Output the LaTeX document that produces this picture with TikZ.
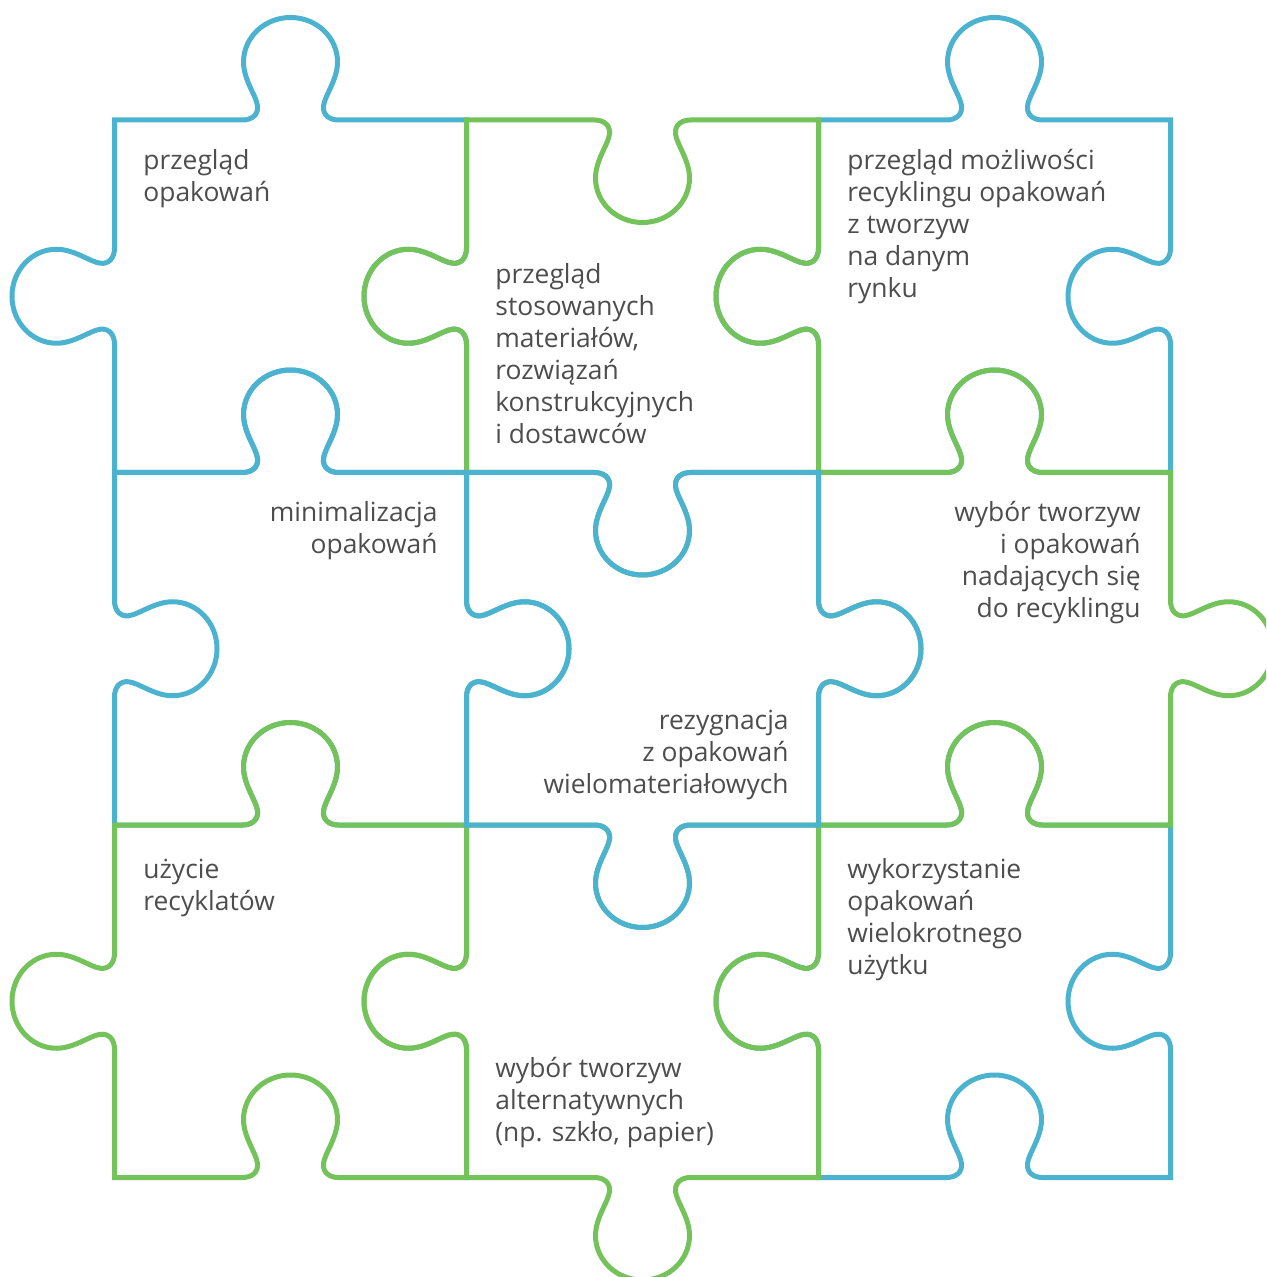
\documentclass[tikz,border=0pt]{standalone}
\usepackage{fontspec}
\setmainfont{Open Sans}

\definecolor{pzblue}{HTML}{4BB3CF}
\definecolor{pzgreen}{HTML}{74C25A}
\definecolor{txt}{HTML}{4D4D4D}

% position along an edge running from #1 to #2, offset #3 from its middle
\newcommand\hmx[3]{(#1+#2)/2+(#2-#1)/abs(#2-#1)*(#3)}

\tikzset{
  % horizontal edge from x=#1 to x=#2 at y=#3 with a knob; #4 = +1 knob up, -1 knob down
  hseg/.style n args={4}{insert path={
    -- ({\hmx{#1}{#2}{-48}},{#3})
    .. controls ({\hmx{#1}{#2}{-39}},{#3}) and ({\hmx{#1}{#2}{-32}},{#3-(#4)*5}) .. ({\hmx{#1}{#2}{-33}},{#3-(#4)*14})
    .. controls ({\hmx{#1}{#2}{-34}},{#3-(#4)*24}) and ({\hmx{#1}{#2}{-47}},{#3-(#4)*40}) .. ({\hmx{#1}{#2}{-47}},{#3-(#4)*58})
    .. controls ({\hmx{#1}{#2}{-47}},{#3-(#4)*82.6}) and ({\hmx{#1}{#2}{-26}},{#3-(#4)*102.5}) .. ({\hmx{#1}{#2}{0}},{#3-(#4)*102.5})
    .. controls ({\hmx{#1}{#2}{26}},{#3-(#4)*102.5}) and ({\hmx{#1}{#2}{47}},{#3-(#4)*82.6}) .. ({\hmx{#1}{#2}{47}},{#3-(#4)*58})
    .. controls ({\hmx{#1}{#2}{47}},{#3-(#4)*40}) and ({\hmx{#1}{#2}{34}},{#3-(#4)*24}) .. ({\hmx{#1}{#2}{33}},{#3-(#4)*14})
    .. controls ({\hmx{#1}{#2}{32}},{#3-(#4)*5}) and ({\hmx{#1}{#2}{39}},{#3}) .. ({\hmx{#1}{#2}{48}},{#3})
  }},
  % vertical edge from y=#1 to y=#2 at x=#3 with a knob; #4 = +1 knob left, -1 knob right
  vseg/.style n args={4}{insert path={
    -- ({#3},{\hmx{#1}{#2}{-48}})
    .. controls ({#3},{\hmx{#1}{#2}{-39}}) and ({#3-(#4)*5},{\hmx{#1}{#2}{-32}}) .. ({#3-(#4)*14},{\hmx{#1}{#2}{-33}})
    .. controls ({#3-(#4)*24},{\hmx{#1}{#2}{-34}}) and ({#3-(#4)*40},{\hmx{#1}{#2}{-47}}) .. ({#3-(#4)*58},{\hmx{#1}{#2}{-47}})
    .. controls ({#3-(#4)*82.6},{\hmx{#1}{#2}{-47}}) and ({#3-(#4)*102.5},{\hmx{#1}{#2}{-26}}) .. ({#3-(#4)*102.5},{\hmx{#1}{#2}{0}})
    .. controls ({#3-(#4)*102.5},{\hmx{#1}{#2}{26}}) and ({#3-(#4)*82.6},{\hmx{#1}{#2}{47}}) .. ({#3-(#4)*58},{\hmx{#1}{#2}{47}})
    .. controls ({#3-(#4)*40},{\hmx{#1}{#2}{47}}) and ({#3-(#4)*24},{\hmx{#1}{#2}{34}}) .. ({#3-(#4)*14},{\hmx{#1}{#2}{33}})
    .. controls ({#3-(#4)*5},{\hmx{#1}{#2}{32}}) and ({#3},{\hmx{#1}{#2}{39}}) .. ({#3},{\hmx{#1}{#2}{48}})
  }},
  piece/.style={line width=2.5pt, line join=miter},
  bluepc/.style={piece, draw=pzblue},
  greenpc/.style={piece, draw=pzgreen},
  lbl/.style={inner sep=0pt, text=txt, font=\fontsize{13.2pt}{16pt}\selectfont},
  % labels are placed by the baseline of their last line
  lblL/.style={lbl, anchor=base west, align=left},
  lblR/.style={lbl, anchor=base east, align=right},
}

% one puzzle piece: #1 style, #2/#3 left/right x, #4/#5 top/bottom y,
% #6 knob direction of top and bottom edges, #7 knob direction of left and right edges
\newcommand\pzpiece[7]{%
  \draw[#1] (#2,#4) [hseg={#2}{#3}{#4}{#6}] -- (#3,#4)
    [vseg={#4}{#5}{#3}{#7}] -- (#3,#5)
    [hseg={#3}{#2}{#5}{#6}] -- (#2,#5)
    [vseg={#5}{#4}{#2}{#7}] -- cycle;}

\begin{document}
\begin{tikzpicture}[x=0.5pt, y=-0.5pt]
  \useasboundingbox (0,0) rectangle (1266,1277);
  \clip (0,0) rectangle (1266,1277);

  % blue pieces underneath
  \pzpiece{bluepc}{114.5}{466.5}{120}{472.5}{1}{1}
  \pzpiece{bluepc}{818.5}{1170.5}{120}{472.5}{1}{1}
  \pzpiece{bluepc}{114.5}{466.5}{472.5}{825}{1}{-1}
  \pzpiece{bluepc}{818.5}{1170.5}{825}{1177.5}{1}{1}
  % green pieces
  \pzpiece{greenpc}{466.5}{818.5}{120}{472.5}{-1}{1}
  \pzpiece{greenpc}{818.5}{1170.5}{472.5}{825}{1}{-1}
  \pzpiece{greenpc}{114.5}{466.5}{825}{1177.5}{1}{1}
  \pzpiece{greenpc}{466.5}{818.5}{825}{1177.5}{-1}{1}
  % centre piece on top
  \pzpiece{bluepc}{466.5}{818.5}{472.5}{825}{-1}{-1}

  % labels
  \node[lblL] (p1) at (143,201.5) {przegląd\\opakowań};
  \node[lblL] (p2) at (495,443.5) {przegląd\\stosowanych\\materiałów,\\rozwiązań\\konstrukcyjnych\\i dostawców};
  \node[lblL] (p3) at (847,297.5) {przegląd możliwości\\recyklingu opakowań\\z tworzyw\\na danym\\rynku};
  \node[lblR] (p4) at (438,553.5) {minimalizacja\\opakowań};
  \node[lblR] (p5) at (789,793.5) {rezygnacja\\z opakowań\\wielomateriałowych};
  \node[lblR] (p6) at (1141,617.5) {wybór tworzyw\\i opakowań\\nadających się\\do recyklingu};
  \node[lblL] (p7) at (143,910.5) {użycie\\recyklatów};
  \node[lblL] (p8) at (495,1141.5) {wybór tworzyw\\alternatywnych\\(np. szkło, papier)};
  \node[lblL] (p9) at (847,974.5) {wykorzystanie\\opakowań\\wielokrotnego\\użytku};
\end{tikzpicture}
\end{document}
